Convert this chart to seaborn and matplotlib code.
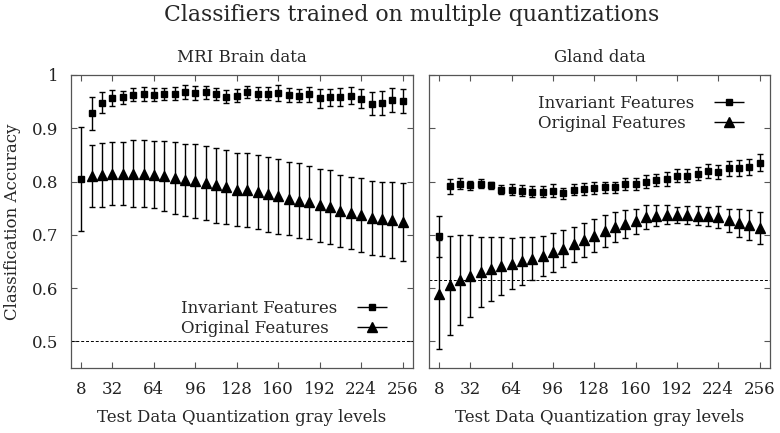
import numpy as np
import pandas as pd
import matplotlib
matplotlib.use('Agg')
import matplotlib.pyplot as plt
import seaborn as sns
from matplotlib.container import ErrorbarContainer
from matplotlib.legend_handler import HandlerErrorbar

# DATA
gray_levels = list(range(8, 257, 8))
tick_levels = [8, 32, 64, 96, 128, 160, 192, 224, 256]

brain_inv = [0.805, 0.928, 0.948, 0.956, 0.958, 0.963, 0.964, 0.963, 0.964, 0.965, 0.968, 0.966,
             0.967, 0.964, 0.959, 0.961, 0.968, 0.965, 0.965, 0.966, 0.963, 0.961, 0.964, 0.956,
             0.958, 0.959, 0.961, 0.955, 0.946, 0.947, 0.953, 0.951]
brain_inv_err = [0.097, 0.031, 0.020, 0.015, 0.012, 0.012, 0.013, 0.012, 0.012, 0.012, 0.013, 0.013,
                 0.012, 0.012, 0.012, 0.012, 0.011, 0.012, 0.012, 0.015, 0.013, 0.012, 0.014, 0.018,
                 0.016, 0.017, 0.016, 0.018, 0.022, 0.022, 0.023, 0.022]
# no triangle is visible at 8 gray levels in the brain panel
brain_orig = [np.nan, 0.811, 0.813, 0.815, 0.815, 0.815, 0.815, 0.813, 0.810, 0.807, 0.803, 0.801,
              0.797, 0.793, 0.790, 0.785, 0.784, 0.780, 0.776, 0.772, 0.768, 0.764, 0.761, 0.755,
              0.752, 0.745, 0.741, 0.737, 0.732, 0.730, 0.728, 0.724]
brain_orig_err = [np.nan, 0.058, 0.060, 0.060, 0.060, 0.062, 0.063, 0.063, 0.066, 0.068, 0.068, 0.070,
                  0.070, 0.070, 0.070, 0.069, 0.070, 0.070, 0.070, 0.070, 0.069, 0.070, 0.068, 0.068,
                  0.069, 0.068, 0.068, 0.070, 0.069, 0.070, 0.072, 0.074]

gland_inv = [0.697, 0.791, 0.796, 0.793, 0.796, 0.793, 0.785, 0.785, 0.783, 0.781, 0.781, 0.783,
             0.778, 0.785, 0.786, 0.788, 0.789, 0.789, 0.796, 0.796, 0.800, 0.803, 0.805, 0.811,
             0.811, 0.815, 0.819, 0.818, 0.825, 0.826, 0.828, 0.835]
gland_inv_err = [0.038, 0.014, 0.010, 0.008, 0.008, 0.007, 0.009, 0.010, 0.010, 0.010, 0.010, 0.012,
                 0.010, 0.010, 0.011, 0.012, 0.010, 0.010, 0.011, 0.011, 0.012, 0.012, 0.013, 0.012,
                 0.012, 0.012, 0.013, 0.013, 0.014, 0.015, 0.015, 0.016]
gland_orig = [0.588, 0.605, 0.615, 0.622, 0.630, 0.635, 0.641, 0.646, 0.650, 0.655, 0.660, 0.667,
              0.674, 0.682, 0.691, 0.698, 0.707, 0.714, 0.720, 0.725, 0.733, 0.736, 0.738, 0.737,
              0.737, 0.736, 0.735, 0.733, 0.727, 0.722, 0.719, 0.713]
gland_orig_err = [0.103, 0.093, 0.084, 0.077, 0.066, 0.060, 0.054, 0.048, 0.045, 0.040, 0.038, 0.036,
                  0.035, 0.033, 0.032, 0.031, 0.030, 0.028, 0.026, 0.024, 0.022, 0.020, 0.018, 0.015,
                  0.017, 0.018, 0.018, 0.021, 0.022, 0.026, 0.028, 0.030]

baselines = {'MRI Brain data': 0.5, 'Gland data': 0.615}
legend_labels = ['Invariant Features', 'Original Features']

sns.set_theme(style='ticks')
plt.rcParams['font.family'] = ['DejaVu Serif']
plt.rcParams['axes.edgecolor'] = '#555555'
plt.rcParams['xtick.color'] = '#555555'
plt.rcParams['ytick.color'] = '#555555'
plt.rcParams['xtick.labelcolor'] = '#222222'
plt.rcParams['ytick.labelcolor'] = '#222222'

df = pd.DataFrame({
    'level': gray_levels * 2,
    'dataset': ['MRI Brain data'] * 32 + ['Gland data'] * 32,
    'inv': brain_inv + gland_inv,
    'inv_err': brain_inv_err + gland_inv_err,
    'orig': brain_orig + gland_orig,
    'orig_err': brain_orig_err + gland_orig_err,
})

fig = plt.figure(figsize=(7.8, 4.33), dpi=100)
ax_l = fig.add_axes([0.091, 0.150, 0.4385, 0.677])
ax_r = fig.add_axes([0.550, 0.150, 0.437, 0.677])

bar_kw = dict(color='black', ecolor='black', elinewidth=1.0, capsize=2.2, capthick=1.0, linestyle='none')

for ax, name in [(ax_l, 'MRI Brain data'), (ax_r, 'Gland data')]:
    d = df[df['dataset'] == name].dropna(subset=['orig'])
    ax.errorbar(d['level'], d['orig'], yerr=d['orig_err'], marker='^', markersize=6.5, zorder=2, **bar_kw)
    d = df[df['dataset'] == name]
    ax.errorbar(d['level'], d['inv'], yerr=d['inv_err'], marker='s', markersize=4.5, zorder=3, **bar_kw)
    ax.axhline(baselines[name], color='black', linestyle=(0, (3, 2)), linewidth=0.7, zorder=1)
    ax.set_xlim(0, 264)
    ax.set_ylim(0.45, 1.0)
    ax.set_xticks(tick_levels)
    ax.set_yticks([0.5, 0.6, 0.7, 0.8, 0.9, 1.0])
    ax.set_yticklabels(['0.5', '0.6', '0.7', '0.8', '0.9', '1'])
    ax.tick_params(direction='in', top=True, right=True, length=4, width=0.8, labelsize=12, pad=9)
    for s in ax.spines.values():
        s.set_linewidth(0.9)
    ax.set_title(name, fontsize=12, pad=9)
    ax.set_xlabel('Test Data Quantization gray levels', fontsize=12, labelpad=8)

ax_r.tick_params(labelleft=False)
ax_l.set_ylabel('Classification Accuracy', fontsize=12, labelpad=8)

fig.suptitle('Classifiers trained on multiple quantizations', fontsize=15.8, x=0.528, y=0.965, va='center')

# legend proxies: horizontal error bars like the gnuplot key
def proxy(ax, marker, ms):
    return ax.errorbar([], [], xerr=[], marker=marker, markersize=ms, **bar_kw)

legends = []
for ax, loc, anchor in [(ax_l, 'lower right', (0.93, 0.105)), (ax_r, 'upper right', (0.93, 0.933))]:
    h_inv = proxy(ax, 's', 4.5)
    h_orig = proxy(ax, '^', 6.5)
    leg = ax.legend([h_inv, h_orig], legend_labels,
                    loc=loc, bbox_to_anchor=anchor, frameon=False, markerfirst=False,
                    fontsize=12, handlelength=2.0, handletextpad=1.1, labelspacing=0.2,
                    borderpad=0, borderaxespad=0,
                    handler_map={ErrorbarContainer: HandlerErrorbar(xerr_size=0.9)})
    legends.append(leg)

# left-align the key texts (gnuplot style) by widening the gap of shorter rows
renderer = fig.canvas.get_renderer()
px_per_pt = fig.dpi / 72.0
for leg in legends:
    widths = [t.get_window_extent(renderer).width for t in leg.get_texts()]
    rows = leg._legend_handle_box.get_children()[0].get_children()
    for row, w in zip(rows, widths):
        row.sep = row.sep + (max(widths) - w) / px_per_pt

fig.savefig('out.png', dpi=100)
